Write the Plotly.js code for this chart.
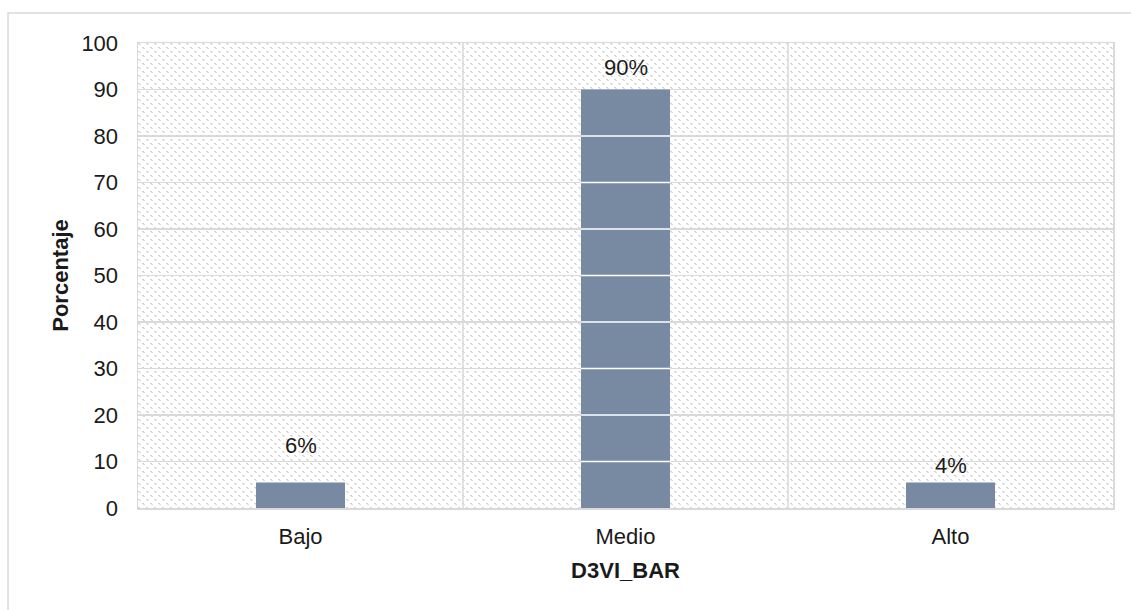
<!DOCTYPE html>
<html><head><meta charset="utf-8">
<script src="https://cdn.plot.ly/plotly-3.0.1.min.js"></script>
<style>html,body{margin:0;padding:0;background:#fff;}#chart{width:1131px;height:610px;}</style>
</head><body><div id="chart"></div>
<script>
const categories = ["Bajo", "Medio", "Alto"];
const values = [5.5, 90, 5.5];
const valueLabels = ["6%", "90%", "4%"];
const yTicks = [0, 10, 20, 30, 40, 50, 60, 70, 80, 90, 100];

const labelShift = [22, 8, 2];
const barWidth = 0.274;

const patternSvg = '<svg xmlns="http://www.w3.org/2000/svg" width="975" height="465">' +
  '<defs><pattern id="p" width="8" height="8" patternUnits="userSpaceOnUse">' +
  '<rect x="0" y="0" width="2" height="1" fill="#d4d4d4"/>' +
  '<rect x="1" y="1" width="2" height="1" fill="#dcdcdc"/>' +
  '<rect x="4" y="4" width="2" height="1" fill="#d4d4d4"/>' +
  '<rect x="5" y="5" width="2" height="1" fill="#dcdcdc"/>' +
  '</pattern></defs><rect width="975" height="465" fill="url(#p)"/></svg>';

const shapes = [];
shapes.push({type:'rect', xref:'paper', yref:'paper', x0:-0.1333, x1:1.2, y0:-0.5, y1:1.0645,
  line:{color:'#d9d9d9', width:1.5}, fillcolor:'rgba(0,0,0,0)', layer:'below'});
for (let i = 0; i < categories.length - 1; i++) {
  shapes.push({type:'line', xref:'x', yref:'y', x0:i+0.5, x1:i+0.5, y0:0, y1:100,
    line:{color:'#d9d9d9', width:1.5}, layer:'below'});
}
values.forEach((v, i) => {
  yTicks.forEach(t => {
    if (t > 0 && t < v) {
      shapes.push({type:'line', xref:'x', yref:'y', x0:i-barWidth/2, x1:i+barWidth/2, y0:t, y1:t,
        line:{color:'#ffffff', width:1.5}, layer:'above'});
    }
  });
});

const annotations = categories.map((c, i) => ({
  x: i, y: values[i], xref:'x', yref:'y', text: valueLabels[i], showarrow:false,
  yanchor:'bottom', yshift: labelShift[i],
  font:{family:'Liberation Sans, Arial, sans-serif', size:22, color:'#1a1a1a'}
}));

const trace = {
  type:'bar', x: categories.map((c,i)=>i), y: values,
  width: barWidth,
  marker:{color:'#778aa2', line:{width:0}},
  hoverinfo:'skip'
};

const layout = {
  width:1131, height:610,
  margin:{l:138, r:18, t:43, b:102},
  paper_bgcolor:'#ffffff', plot_bgcolor:'#ffffff',
  showlegend:false,
  font:{family:'Liberation Sans, Arial, sans-serif', size:22, color:'#1a1a1a'},
  xaxis:{
    range:[-0.5, 2.5], tickvals:[0,1,2], ticktext:categories,
    showgrid:false, zeroline:false, showline:true, mirror:true, linecolor:'#d9d9d9', linewidth:1.5,
    ticks:'outside', ticklen:8, tickcolor:'rgba(0,0,0,0)',
    tickfont:{size:22, color:'#1a1a1a'},
    title:{text:'<b>D3VI_BAR</b>', font:{size:22, color:'#1a1a1a'}, standoff:14},
    fixedrange:true
  },
  yaxis:{
    range:[0, 100], tickvals:yTicks, ticktext:yTicks.map(String),
    showgrid:true, gridcolor:'#d9d9d9', gridwidth:1.5,
    zeroline:false, showline:true, mirror:true, linecolor:'#d9d9d9', linewidth:1.5,
    ticks:'outside', ticklen:14, tickcolor:'rgba(0,0,0,0)',
    tickfont:{size:22, color:'#1a1a1a'},
    title:{text:'<b>Porcentaje</b>', font:{size:22, color:'#1a1a1a'}, standoff:6},
    fixedrange:true
  },
  images:[{source:'data:image/svg+xml;charset=utf-8,' + encodeURIComponent(patternSvg),
    xref:'paper', yref:'paper', x:0, y:1, sizex:1, sizey:1, sizing:'stretch',
    xanchor:'left', yanchor:'top', layer:'below'}],
  shapes: shapes,
  annotations: annotations
};

Plotly.newPlot('chart', [trace], layout, {displayModeBar:false, staticPlot:true});
</script></body></html>
